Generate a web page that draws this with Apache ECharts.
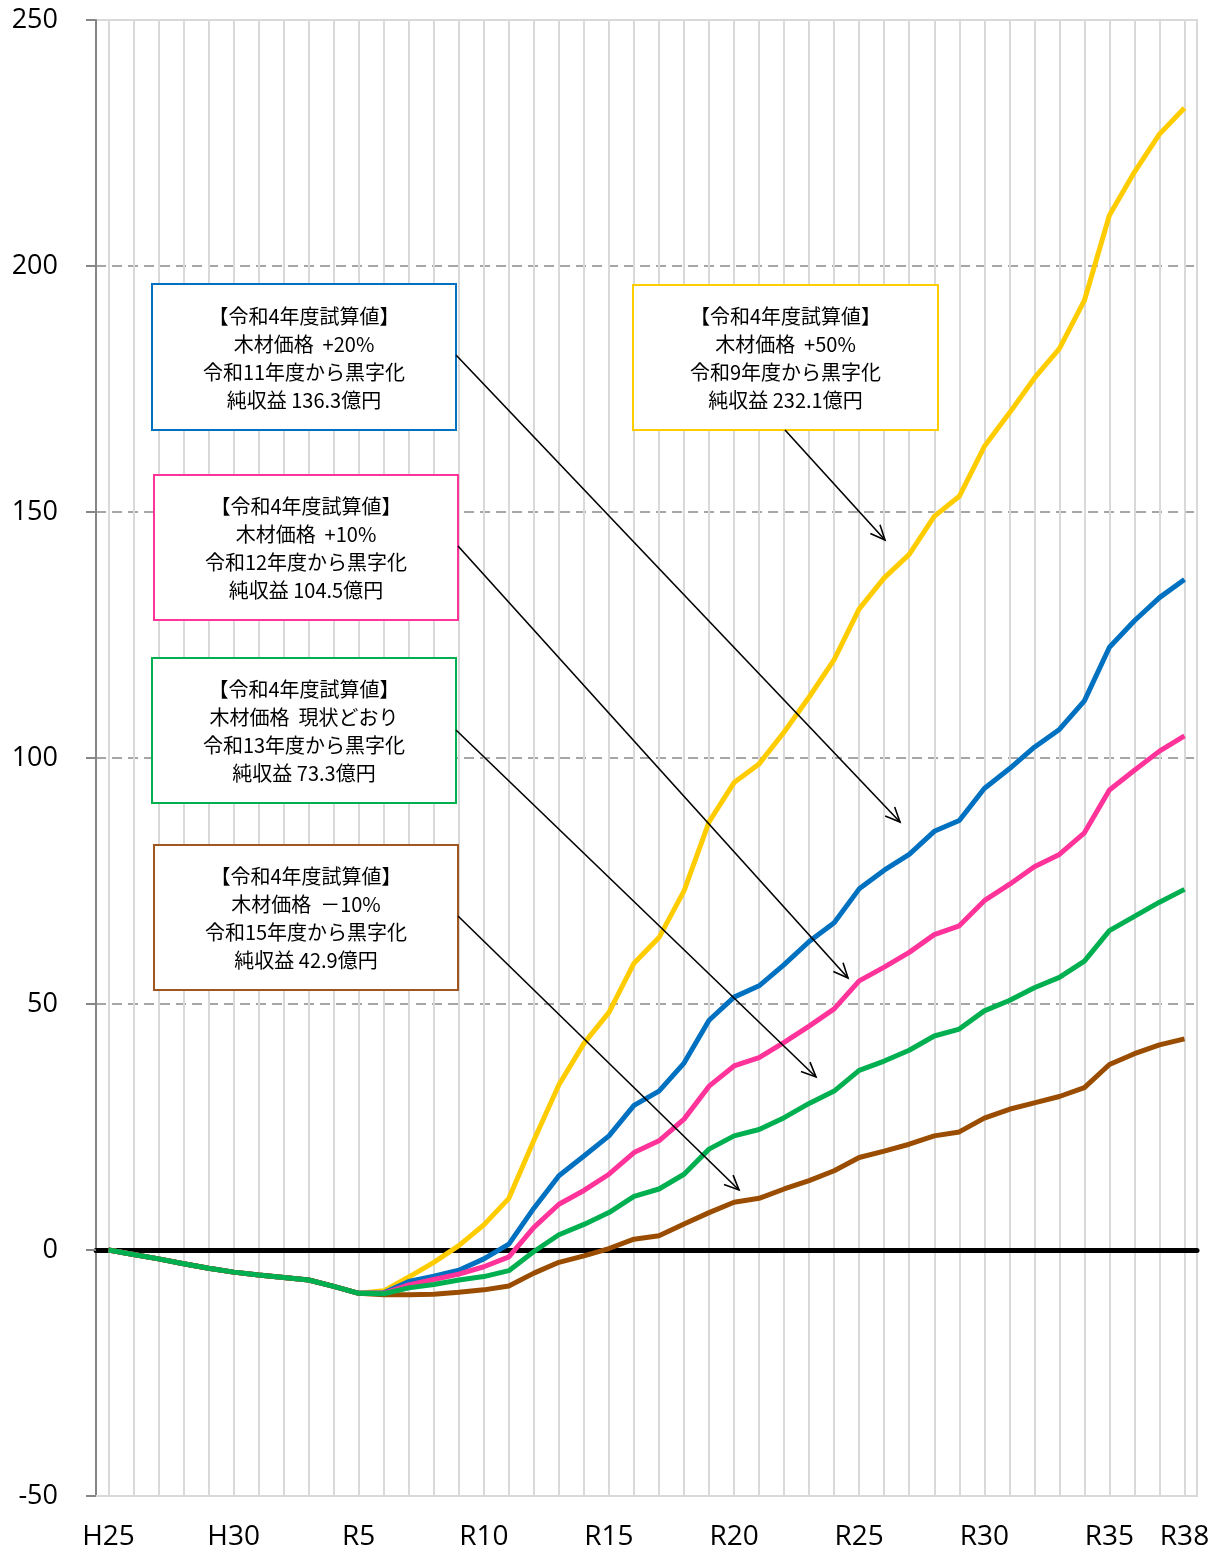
<!DOCTYPE html>
<html>
<head>
<meta charset="utf-8">
<script src="https://cdn.jsdelivr.net/npm/echarts@6/dist/echarts.min.js"></script>
<style>
  html, body { margin: 0; padding: 0; background: #fff; }
  #chart { width: 1219px; height: 1553px; }
</style>
</head>
<body>
<div id="chart"></div>
<script>
// 年度
const years = [
  'H25', 'H26', 'H27', 'H28', 'H29', 'H30',
  'R1', 'R2', 'R3', 'R4', 'R5', 'R6', 'R7', 'R8', 'R9', 'R10',
  'R11', 'R12', 'R13', 'R14', 'R15', 'R16', 'R17', 'R18', 'R19', 'R20',
  'R21', 'R22', 'R23', 'R24', 'R25', 'R26', 'R27', 'R28', 'R29', 'R30',
  'R31', 'R32', 'R33', 'R34', 'R35', 'R36', 'R37', 'R38'
];
// 表示する軸ラベル
const shownYears = ['H25', 'H30', 'R5', 'R10', 'R15', 'R20', 'R25', 'R30', 'R35', 'R38'];

// 累積純収益（億円）
const plus50 = [0, -0.9, -1.8, -2.8, -3.7, -4.5, -5.1, -5.6, -6.1, -7.4, -8.8,
  -8.3, -5.5, -2.5, 0.9, 5.1, 10.5, 22.3, 33.6, 42.0, 48.3, 58.3, 63.5, 73.0, 87.0, 95.0,
  98.8, 105.3, 112.4, 120.0, 130.3, 136.6, 141.4, 149.1, 153.2, 163.3, 170.1, 177.2,
  183.2, 193.0, 210.3, 219.1, 226.8, 232.1];
const plus20 = [0, -0.9, -1.8, -2.8, -3.7, -4.5, -5.1, -5.6, -6.1, -7.4, -8.8,
  -8.7, -6.4, -5.3, -4.1, -1.8, 1.2, 8.5, 15.1, 19.1, 23.2, 29.4, 32.3, 38.0, 46.7, 51.4,
  53.7, 58.0, 62.7, 66.5, 73.4, 77.2, 80.4, 85.1, 87.3, 93.8, 97.8, 102.2,
  105.8, 111.6, 122.5, 127.9, 132.6, 136.3];
const plus10 = [0, -0.9, -1.8, -2.8, -3.7, -4.5, -5.1, -5.6, -6.1, -7.4, -8.8,
  -8.8, -7.1, -6.0, -4.9, -3.4, -1.4, 4.6, 9.3, 12.1, 15.4, 19.8, 22.2, 26.6, 33.3, 37.4,
  39.1, 42.2, 45.5, 49.0, 54.7, 57.5, 60.5, 64.1, 65.9, 71.0, 74.3, 77.9,
  80.4, 84.8, 93.5, 97.5, 101.4, 104.5];
const current = [0, -0.9, -1.8, -2.8, -3.7, -4.5, -5.1, -5.6, -6.1, -7.4, -8.8,
  -8.9, -7.7, -7.0, -6.1, -5.4, -4.2, -0.3, 3.1, 5.2, 7.6, 10.9, 12.4, 15.4, 20.5, 23.2,
  24.5, 26.9, 29.8, 32.3, 36.5, 38.4, 40.6, 43.5, 44.9, 48.6, 50.7, 53.3,
  55.4, 58.7, 64.9, 67.8, 70.7, 73.3];
const minus10 = [0, -0.9, -1.8, -2.8, -3.7, -4.5, -5.1, -5.6, -6.1, -7.4, -8.8,
  -9.1, -9.1, -9.0, -8.6, -8.1, -7.3, -4.7, -2.5, -1.2, 0.3, 2.2, 2.9, 5.3, 7.6, 9.7,
  10.5, 12.4, 14.1, 16.1, 18.8, 20.1, 21.5, 23.2, 24.0, 26.8, 28.6, 29.9,
  31.2, 33.0, 37.7, 39.9, 41.7, 42.9];

const JP_FONT = '"Noto Sans CJK JP", sans-serif';
const AX_FONT = '"Open Sans", sans-serif';

// 注記ボックス
function noteBox(x, y, w, h, color, lines) {
  return [
    {
      type: 'rect', z: 100,
      shape: { x: x, y: y, width: w, height: h },
      style: { fill: '#fff', stroke: color, lineWidth: 2 }
    },
    {
      type: 'text', z: 101,
      style: {
        x: x + w / 2, y: y + h / 2 + 1,
        text: lines.join('\n'),
        align: 'center', verticalAlign: 'middle',
        fontFamily: JP_FONT, fontSize: 20, lineHeight: 28, fill: '#000'
      }
    }
  ];
}

// 矢印
function arrow(x1, y1, x2, y2) {
  const a = Math.atan2(y2 - y1, x2 - x1);
  const L = 16, w = 0.42;
  return [
    {
      type: 'line', z: 102,
      shape: { x1: x1, y1: y1, x2: x2, y2: y2 },
      style: { stroke: '#000', lineWidth: 1.6 }
    },
    {
      type: 'polyline', z: 102,
      shape: {
        points: [
          [x2 - L * Math.cos(a - w), y2 - L * Math.sin(a - w)],
          [x2, y2],
          [x2 - L * Math.cos(a + w), y2 - L * Math.sin(a + w)]
        ]
      },
      style: { stroke: '#000', lineWidth: 1.6, fill: null }
    }
  ];
}

const graphics = [].concat(
  arrow(456, 355, 900, 822),
  arrow(458, 546, 848, 978),
  arrow(456, 730, 816, 1077),
  arrow(458, 916, 739, 1190),
  arrow(785, 430, 885, 540),
  noteBox(152, 284, 304, 146, '#0070C0',
    ['【令和4年度試算値】', '木材価格  +20%', '令和11年度から黒字化', '純収益 136.3億円']),
  noteBox(154, 475, 304, 145, '#FF3399',
    ['【令和4年度試算値】', '木材価格  +10%', '令和12年度から黒字化', '純収益 104.5億円']),
  noteBox(152, 658, 304, 145, '#00B050',
    ['【令和4年度試算値】', '木材価格  現状どおり', '令和13年度から黒字化', '純収益 73.3億円']),
  noteBox(154, 845, 304, 145, '#A0561E',
    ['【令和4年度試算値】', '木材価格  －10%', '令和15年度から黒字化', '純収益 42.9億円']),
  noteBox(633, 285, 305, 145, '#FFCC00',
    ['【令和4年度試算値】', '木材価格  +50%', '令和9年度から黒字化', '純収益 232.1億円'])
);

function lineSeries(name, data, color) {
  return {
    name: name,
    type: 'line',
    data: data,
    showSymbol: false,
    symbol: 'none',
    lineStyle: { color: color, width: 5 },
    itemStyle: { color: color },
    xAxisIndex: 0,
    yAxisIndex: 0
  };
}

const chart = echarts.init(document.getElementById('chart'));
chart.setOption({
  animation: false,
  backgroundColor: '#fff',
  grid: {
    left: 96, right: 22, top: 20, bottom: 57,
    show: true, borderColor: '#d9d9d9', borderWidth: 2, backgroundColor: 'transparent'
  },
  xAxis: [
    {
      type: 'category',
      data: years,
      boundaryGap: true,
      position: 'bottom',
      axisLine: { onZero: false, lineStyle: { color: '#d9d9d9', width: 2 } },
      axisTick: { show: false },
      axisLabel: {
        interval: function (index, value) { return shownYears.indexOf(value) >= 0; },
        fontFamily: AX_FONT, fontSize: 28, color: '#000', margin: 27
      },
      splitLine: {
        show: true, interval: 0, alignWithLabel: true,
        lineStyle: { color: '#d9d9d9', width: 2 }
      }
    },
    {
      // ゼロ線
      type: 'category',
      data: years,
      position: 'bottom',
      axisLine: { onZero: true, lineStyle: { color: '#000', width: 5 } },
      axisTick: { show: false },
      axisLabel: { show: false },
      splitLine: { show: false }
    }
  ],
  yAxis: {
    type: 'value',
    min: -50, max: 250, interval: 50,
    axisLine: { show: true, lineStyle: { color: '#868686', width: 2 } },
    axisTick: { show: true, inside: false, length: 10, lineStyle: { color: '#868686', width: 2 } },
    axisLabel: { fontFamily: AX_FONT, fontSize: 27, color: '#000', margin: 38 },
    splitLine: {
      show: true, showMinLine: false, showMaxLine: false,
      lineStyle: { color: '#898989', width: 1.5, type: [10, 6] }
    }
  },
  series: [
    lineSeries('+50%', plus50, '#FFCC00'),
    lineSeries('+20%', plus20, '#0070C0'),
    lineSeries('+10%', plus10, '#FF3399'),
    lineSeries('-10%', minus10, '#9A4D00'),
    lineSeries('現状どおり', current, '#00B050')
  ],
  graphic: { elements: graphics }
});
</script>
</body>
</html>
